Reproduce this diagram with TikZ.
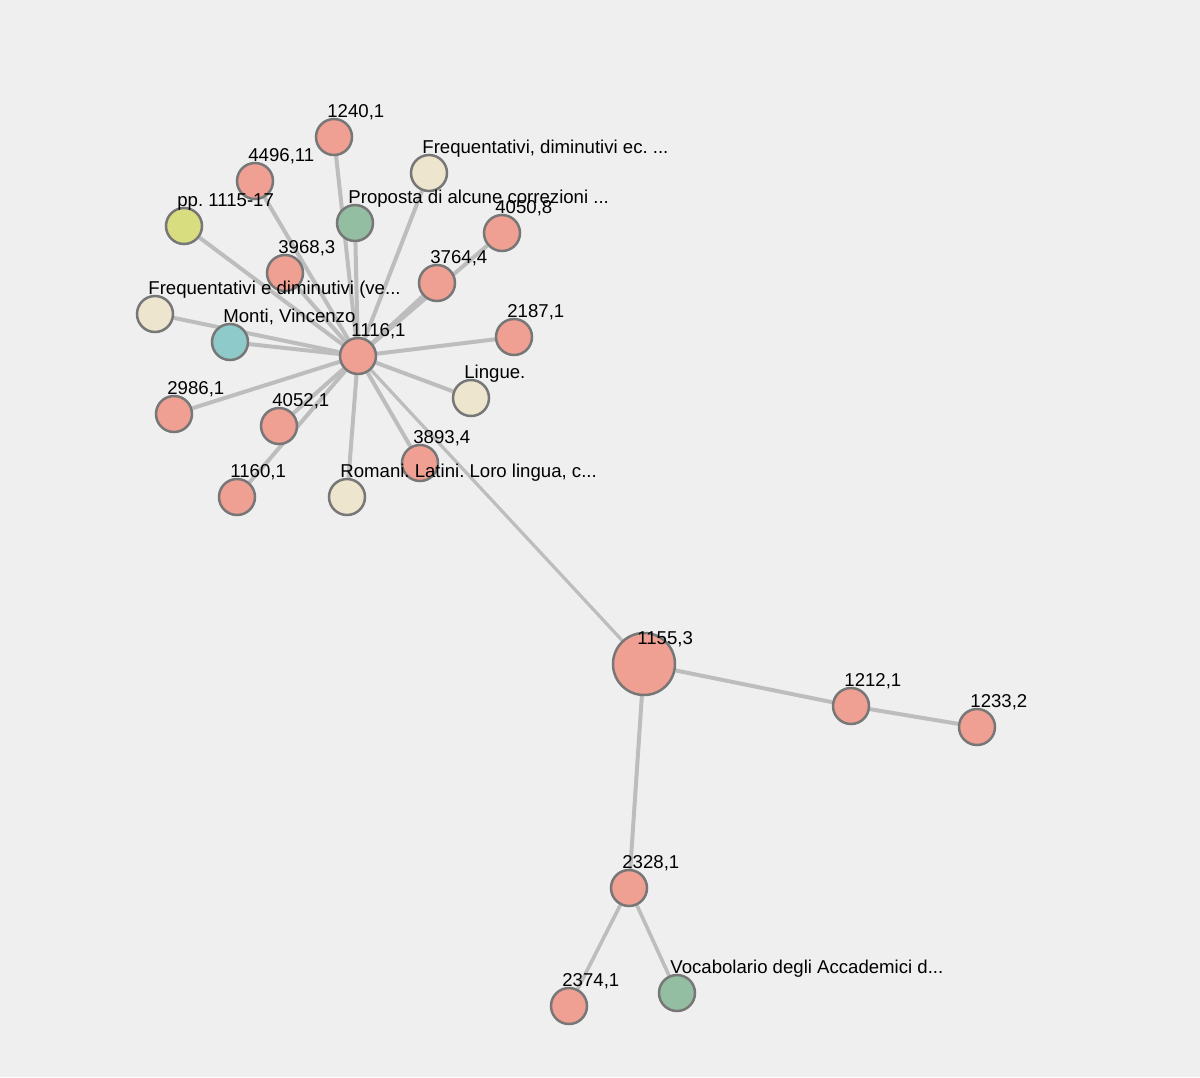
\documentclass[tikz,border=0pt]{standalone}
\usepackage{fontspec}
\setmainfont{Liberation Sans}
\frenchspacing
\usetikzlibrary{backgrounds}
\definecolor{bgcol}{HTML}{EFEFEF}
\definecolor{salmon}{HTML}{F0A092}
\definecolor{beige}{HTML}{EDE5CE}
\definecolor{sage}{HTML}{94BEA2}
\definecolor{teal}{HTML}{8FCACA}
\definecolor{lime}{HTML}{D8DE80}
\definecolor{rim}{HTML}{777777}
\definecolor{link}{HTML}{BDBDBD}
\tikzset{
	dot/.style={draw=rim,circle,line width=1.25pt,minimum size=18pt,inner sep=0pt},
	bigdot/.style={dot,minimum size=31pt},
	lbl/.style={anchor=base west,inner sep=0pt,font=\fontsize{9.3}{11}\selectfont},
	edge/.style={draw=link,line width=2pt}
}

\begin{document}
\begin{tikzpicture}[x=0.5pt,y=-0.5pt]
		\useasboundingbox (0,0) rectangle (1200,1077);
		%the hub and its neighbours
		\node [dot,fill=salmon] (n1116) at (358,356) {};
		\node [dot,fill=salmon] (n1240) at (334,137) {};
		\node [dot,fill=salmon] (n4496) at (255,181) {};
		\node [dot,fill=lime] (npp) at (184,226) {};
		\node [dot,fill=sage] (nprop) at (355,223) {};
		\node [dot,fill=beige] (nfreqa) at (429,173) {};
		\node [dot,fill=salmon] (n4050) at (502,233) {};
		\node [dot,fill=salmon] (n3968) at (285,273) {};
		\node [dot,fill=salmon] (n3764) at (437,283) {};
		\node [dot,fill=beige] (nfreqb) at (155,314) {};
		\node [dot,fill=teal] (nmonti) at (230,342) {};
		\node [dot,fill=salmon] (n2187) at (514,337) {};
		\node [dot,fill=beige] (nling) at (471,398) {};
		\node [dot,fill=salmon] (n2986) at (174,414) {};
		\node [dot,fill=salmon] (n4052) at (279,426) {};
		\node [dot,fill=salmon] (n3893) at (420,463) {};
		\node [dot,fill=salmon] (n1160) at (237,497) {};
		\node [dot,fill=beige] (nrom) at (347,497) {};
		%the lower branch
		\node [bigdot,fill=salmon] (n1155) at (644,664) {};
		\node [dot,fill=salmon] (n1212) at (851,706) {};
		\node [dot,fill=salmon] (n1233) at (977,727) {};
		\node [dot,fill=salmon] (n2328) at (629,888) {};
		\node [dot,fill=salmon] (n2374) at (569,1006) {};
		\node [dot,fill=sage] (nvoc) at (677,993) {};
		\begin{pgfonlayer}{background}
			\fill [bgcol] (0,0) rectangle (1200,1077);
			\foreach \a in {n1240,n4496,npp,nprop,nfreqa,n4050,n3968,n3764,nfreqb,nmonti,n2187,nling,n2986,n4052,n3893,n1160,nrom}
				\draw [edge] (n1116) -- (\a);
			\draw [edge,line width=1.6pt] (n1116) -- (n1155);
			\draw [edge] (n1155) -- (n1212);
			\draw [edge] (n1212) -- (n1233);
			\draw [edge] (n1155) -- (n2328);
			\draw [edge,line width=1.8pt] (n2328) -- (n2374);
			\draw [edge,line width=1.8pt] (n2328) -- (nvoc);
		\end{pgfonlayer}
		%labels on top of everything
		\foreach \a/\t in {n1116/{1116,1},n1240/{1240,1},n4496/{4496,11},npp/{pp. 1115-17},
			nprop/{Proposta di alcune correzioni ...},nfreqa/{Frequentativi, diminutivi ec. ...},
			n4050/{4050,8},n3968/{3968,3},n3764/{3764,4},nfreqb/{Frequentativi e diminutivi (ve...},
			nmonti/{Monti, Vincenzo},n2187/{2187,1},nling/{Lingue.},n2986/{2986,1},n4052/{4052,1},
			n3893/{3893,4},n1160/{1160,1},nrom/{Romani. Latini. Loro lingua, c...},n1155/{1155,3},
			n1212/{1212,1},n1233/{1233,2},n2328/{2328,1},n2374/{2374,1},nvoc/{Vocabolario degli Accademici d...}}
			\node [lbl] (l\a) at ([shift={(-7,-20)}]\a.center) {\t};
		\end{tikzpicture}
\end{document}
